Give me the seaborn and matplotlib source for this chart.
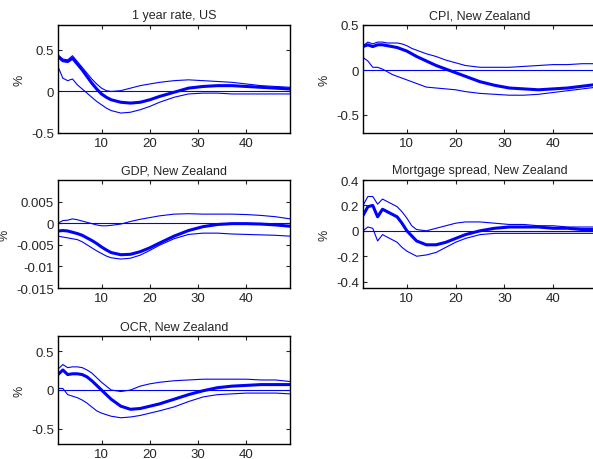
import matplotlib
matplotlib.use("Agg")
import matplotlib.pyplot as plt
import seaborn as sns
import pandas as pd

sns.set_style("white")
plt.rcParams['font.family'] = ['Liberation Sans', 'DejaVu Sans']

x = [1, 2, 3, 4, 5, 6, 7, 8, 9, 10, 11, 12, 14, 16, 18, 20, 22, 25, 28, 31, 34, 37, 40, 43, 46, 49]

titles = ["1 year rate, US", "CPI, New Zealand", "GDP, New Zealand",
          "Mortgage spread, New Zealand", "OCR, New Zealand"]

us_med = [0.42, 0.37, 0.36, 0.40, 0.33, 0.26, 0.18, 0.10, 0.03, -0.03, -0.07, -0.10, -0.13, -0.14, -0.13, -0.10, -0.06, -0.01, 0.04, 0.06, 0.07, 0.07, 0.06, 0.05, 0.04, 0.03]
us_up = [0.44, 0.39, 0.38, 0.43, 0.36, 0.29, 0.22, 0.15, 0.09, 0.04, 0.01, 0.00, 0.01, 0.04, 0.07, 0.09, 0.11, 0.13, 0.14, 0.13, 0.12, 0.11, 0.09, 0.07, 0.06, 0.05]
us_lo = [0.30, 0.16, 0.13, 0.15, 0.08, 0.03, -0.02, -0.07, -0.12, -0.16, -0.20, -0.23, -0.26, -0.25, -0.22, -0.18, -0.13, -0.07, -0.03, -0.02, -0.02, -0.03, -0.03, -0.03, -0.03, -0.03]

cpi_med = [0.26, 0.28, 0.26, 0.28, 0.28, 0.27, 0.26, 0.25, 0.23, 0.21, 0.18, 0.15, 0.10, 0.05, 0.01, -0.03, -0.07, -0.13, -0.17, -0.20, -0.21, -0.22, -0.21, -0.20, -0.18, -0.16]
cpi_up = [0.27, 0.31, 0.29, 0.31, 0.31, 0.30, 0.30, 0.30, 0.29, 0.27, 0.24, 0.22, 0.18, 0.15, 0.11, 0.08, 0.05, 0.03, 0.03, 0.03, 0.04, 0.05, 0.06, 0.06, 0.07, 0.07]
cpi_lo = [0.14, 0.10, 0.03, 0.03, 0.01, -0.02, -0.05, -0.07, -0.09, -0.11, -0.13, -0.15, -0.19, -0.20, -0.21, -0.22, -0.24, -0.26, -0.27, -0.28, -0.28, -0.27, -0.25, -0.23, -0.21, -0.19]

gdp_med = [-0.0018, -0.0017, -0.0018, -0.0021, -0.0024, -0.0028, -0.0034, -0.0040, -0.0047, -0.0055, -0.0062, -0.0068, -0.0073, -0.0072, -0.0066, -0.0057, -0.0046, -0.0030, -0.0017, -0.0008, -0.0003, -0.0001, -0.0001, -0.0002, -0.0004, -0.0007]
gdp_up = [0.0000, 0.0006, 0.0007, 0.0010, 0.0008, 0.0005, 0.0002, -0.0001, -0.0004, -0.0006, -0.0006, -0.0005, -0.0002, 0.0004, 0.0009, 0.0013, 0.0017, 0.0021, 0.0022, 0.0021, 0.0021, 0.0021, 0.0020, 0.0018, 0.0015, 0.0010]
gdp_lo = [-0.0030, -0.0032, -0.0034, -0.0036, -0.0038, -0.0043, -0.0050, -0.0057, -0.0064, -0.0070, -0.0076, -0.0080, -0.0083, -0.0081, -0.0074, -0.0063, -0.0051, -0.0036, -0.0026, -0.0023, -0.0023, -0.0025, -0.0026, -0.0027, -0.0028, -0.0030]

mort_med = [0.12, 0.19, 0.20, 0.11, 0.17, 0.15, 0.13, 0.11, 0.06, 0.00, -0.04, -0.08, -0.11, -0.11, -0.09, -0.06, -0.03, 0.00, 0.02, 0.03, 0.03, 0.03, 0.02, 0.02, 0.01, 0.01]
mort_up = [0.20, 0.27, 0.27, 0.21, 0.25, 0.23, 0.21, 0.19, 0.15, 0.10, 0.04, 0.01, 0.00, 0.02, 0.04, 0.06, 0.07, 0.07, 0.06, 0.05, 0.05, 0.04, 0.04, 0.03, 0.03, 0.03]
mort_lo = [0.00, 0.03, 0.02, -0.08, -0.03, -0.05, -0.07, -0.09, -0.13, -0.16, -0.18, -0.20, -0.19, -0.17, -0.13, -0.09, -0.06, -0.03, -0.02, -0.02, -0.02, -0.02, -0.02, -0.02, -0.02, -0.02]

ocr_med = [0.20, 0.26, 0.20, 0.21, 0.21, 0.20, 0.17, 0.12, 0.06, 0.00, -0.06, -0.12, -0.21, -0.25, -0.24, -0.21, -0.18, -0.12, -0.06, -0.01, 0.03, 0.05, 0.06, 0.07, 0.07, 0.07]
ocr_up = [0.27, 0.33, 0.29, 0.30, 0.30, 0.29, 0.26, 0.22, 0.16, 0.10, 0.05, 0.00, -0.02, 0.00, 0.05, 0.08, 0.10, 0.12, 0.13, 0.14, 0.14, 0.14, 0.14, 0.13, 0.13, 0.11]
ocr_lo = [0.02, 0.02, -0.06, -0.08, -0.10, -0.13, -0.17, -0.22, -0.27, -0.30, -0.32, -0.34, -0.36, -0.35, -0.33, -0.30, -0.27, -0.22, -0.15, -0.09, -0.06, -0.05, -0.04, -0.04, -0.04, -0.05]

series = [(us_med, us_up, us_lo), (cpi_med, cpi_up, cpi_lo), (gdp_med, gdp_up, gdp_lo),
          (mort_med, mort_up, mort_lo), (ocr_med, ocr_up, ocr_lo)]
ylims = [(-0.5, 0.8), (-0.7, 0.5), (-0.015, 0.01), (-0.45, 0.4), (-0.7, 0.7)]
yticks = [[-0.5, 0, 0.5], [-0.5, 0, 0.5], [-0.015, -0.01, -0.005, 0, 0.005],
          [-0.4, -0.2, 0, 0.2, 0.4], [-0.5, 0, 0.5]]
ytl = [["-0.5", "0", "0.5"], ["-0.5", "0", "0.5"], ["-0.015", "-0.01", "-0.005", "0", "0.005"],
       ["-0.4", "-0.2", "0", "0.2", "0.4"], ["-0.5", "0", "0.5"]]

W, H = 593, 460
# axes pixel boxes (left, top, right, bottom)
boxes = [(58, 26, 290, 134), (363, 26, 597, 134), (58, 181, 290, 289),
         (363, 181, 597, 289), (58, 337, 290, 445)]

fig = plt.figure(figsize=(W / 100, H / 100), dpi=100)
blue = (0, 0, 1)
for i in range(5):
    l, t, r, b = boxes[i]
    ax = fig.add_axes([l / W, 1 - b / H, (r - l) / W, (b - t) / H])
    med, up, lo = series[i]
    df = pd.DataFrame({"x": x, "med": med, "up": up, "lo": lo})
    sns.lineplot(data=df, x="x", y="up", ax=ax, color=blue, lw=0.8)
    sns.lineplot(data=df, x="x", y="lo", ax=ax, color=blue, lw=0.8)
    sns.lineplot(data=df, x="x", y="med", ax=ax, color=blue, lw=2.2)
    ax.axhline(0, color=blue, lw=0.8)
    ax.set_xlim(1, 49)
    ax.set_ylim(*ylims[i])
    ax.set_xticks([10, 20, 30, 40])
    ax.set_yticks(yticks[i])
    ax.set_yticklabels(ytl[i])
    ax.set_xlabel("")
    ax.set_ylabel("%", fontsize=9)
    ax.set_title(titles[i], fontsize=9, pad=5)
    ax.tick_params(labelsize=9.5, direction="in", length=3, top=True, right=True,
                   bottom=True, left=True, pad=3)
    for s in ax.spines.values():
        s.set_color("black")
        s.set_linewidth(1.0)

fig.savefig("out.png", dpi=100)
